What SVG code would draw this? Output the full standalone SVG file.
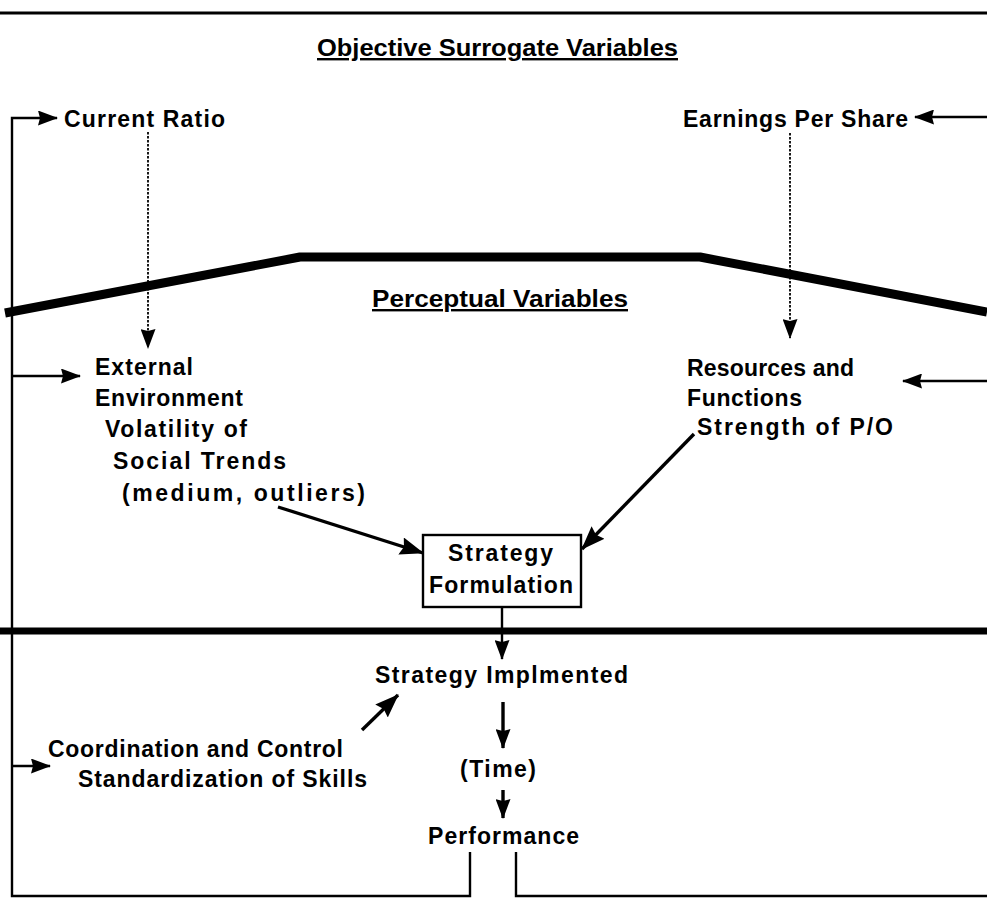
<svg xmlns="http://www.w3.org/2000/svg" width="987" height="921" viewBox="0 0 987 921" xml:space="preserve">
  <defs>
    <style>
      .t { font-family: "Liberation Sans", Arial, Helvetica, sans-serif; font-size: 23px; font-weight: bold; fill: #000; }
      .h { font-family: "Liberation Sans", Arial, Helvetica, sans-serif; font-size: 24px; font-weight: bold; fill: #000; text-decoration: underline; }
      .ln { fill: none; stroke: #000; stroke-width: 2.4; }
      .dot { fill: none; stroke: #000; stroke-width: 1.8; stroke-dasharray: 2.5 1.5; }
      .arr { fill: none; stroke: #000; stroke-width: 3.4; }
      .thick { fill: none; stroke: #000; stroke-width: 9; stroke-linejoin: round; }
      .box { fill: #fff; stroke: #000; stroke-width: 2.4; }
    </style>
    <marker id="head" viewBox="0 0 24 18" refX="23" refY="9" markerWidth="24" markerHeight="18" markerUnits="userSpaceOnUse" orient="auto">
      <path d="M0,0 L24,9 L0,18 L3,9 Z" fill="#000"/>
    </marker>
    <marker id="headS" viewBox="0 0 20 15" refX="19" refY="7.5" markerWidth="20" markerHeight="15" markerUnits="userSpaceOnUse" orient="auto">
      <path d="M0,0 L20,7.5 L0,15 L2,7.5 Z" fill="#000"/>
    </marker>
  </defs>

  <rect width="987" height="921" fill="#fff"/>

  <!-- section rules -->
  <g id="rules">
    <line x1="0" y1="13" x2="987" y2="13" stroke="#000" stroke-width="3"/>
    <polyline class="thick" points="5,313 300,257 700,257 987,312"/>
    <line x1="0" y1="631" x2="987" y2="631" stroke="#000" stroke-width="7"/>
  </g>

  <g id="headings">
    <text class="h" x="317" y="56" textLength="361" lengthAdjust="spacingAndGlyphs">Objective  Surrogate  Variables</text>
    <text class="h" x="372" y="307" textLength="256" lengthAdjust="spacingAndGlyphs">Perceptual  Variables</text>
  </g>

  <g id="current-ratio">
    <text class="t" x="64" y="127" textLength="161" lengthAdjust="spacing">Current  Ratio</text>
  </g>

  <g id="earnings-per-share">
    <text class="t" x="683" y="127" textLength="225" lengthAdjust="spacing">Earnings  Per  Share</text>
  </g>

  <g id="external-environment">
    <text class="t" x="95" y="375" textLength="98" lengthAdjust="spacing">External</text>
    <text class="t" x="95" y="406" textLength="148" lengthAdjust="spacing">Environment</text>
    <text class="t" x="105" y="437" textLength="142" lengthAdjust="spacing">Volatility  of</text>
    <text class="t" x="113" y="469" textLength="173" lengthAdjust="spacing">Social  Trends</text>
    <text class="t" x="122" y="501" textLength="243" lengthAdjust="spacing">(medium,   outliers)</text>
  </g>

  <g id="resources-functions">
    <text class="t" x="687" y="376" textLength="167" lengthAdjust="spacing">Resources  and</text>
    <text class="t" x="687" y="406" textLength="115" lengthAdjust="spacing">Functions</text>
    <text class="t" x="697" y="435" textLength="196" lengthAdjust="spacing">Strength  of  P/O</text>
  </g>

  <g id="strategy-formulation">
    <rect class="box" x="423" y="535" width="158" height="72"/>
    <text class="t" x="448" y="561" textLength="105" lengthAdjust="spacing">Strategy</text>
    <text class="t" x="429" y="593" textLength="144" lengthAdjust="spacing">Formulation</text>
  </g>

  <g id="strategy-implemented">
    <text class="t" x="375" y="683" textLength="253" lengthAdjust="spacing">Strategy   Implmented</text>
  </g>

  <g id="coordination-control">
    <text class="t" x="48" y="757" textLength="295" lengthAdjust="spacing">Coordination  and  Control</text>
    <text class="t" x="78" y="787" textLength="289" lengthAdjust="spacing">Standardization  of  Skills</text>
  </g>

  <g id="time">
    <text class="t" x="460" y="777" textLength="76" lengthAdjust="spacing">(Time)</text>
  </g>

  <g id="performance">
    <text class="t" x="428" y="844" textLength="151" lengthAdjust="spacing">Performance</text>
  </g>

  <g id="connectors">
    <!-- feedback loop, left side -->
    <polyline class="ln" points="470,852 470,896 12,896 12,118 57,118" marker-end="url(#headS)"/>
    <line class="ln" x1="12" y1="376" x2="80" y2="376" marker-end="url(#headS)"/>
    <line class="ln" x1="12" y1="766" x2="50" y2="766" marker-end="url(#headS)"/>
    <!-- feedback loop, right side -->
    <polyline class="ln" points="516,852 516,896 987,896"/>
    <line class="ln" x1="987" y1="117" x2="915" y2="117" marker-end="url(#headS)"/>
    <line class="ln" x1="987" y1="381" x2="903" y2="381" marker-end="url(#headS)"/>
    <!-- surrogate to perceptual -->
    <line class="dot" x1="148" y1="132" x2="148" y2="348" marker-end="url(#headS)"/>
    <line class="dot" x1="790" y1="133" x2="790" y2="338" marker-end="url(#headS)"/>
    <!-- into formulation -->
    <line class="arr" x1="278" y1="507" x2="423" y2="553" marker-end="url(#head)"/>
    <line class="arr" x1="694" y1="434" x2="582" y2="549" marker-end="url(#head)"/>
    <!-- implementation chain -->
    <line class="ln" x1="502" y1="607" x2="502" y2="659" marker-end="url(#headS)"/>
    <line class="arr" x1="503" y1="702" x2="503" y2="748" marker-end="url(#headS)"/>
    <line class="arr" x1="503" y1="790" x2="503" y2="818" marker-end="url(#headS)"/>
    <line class="arr" x1="362" y1="730" x2="398" y2="695" marker-end="url(#head)"/>
  </g>
</svg>
